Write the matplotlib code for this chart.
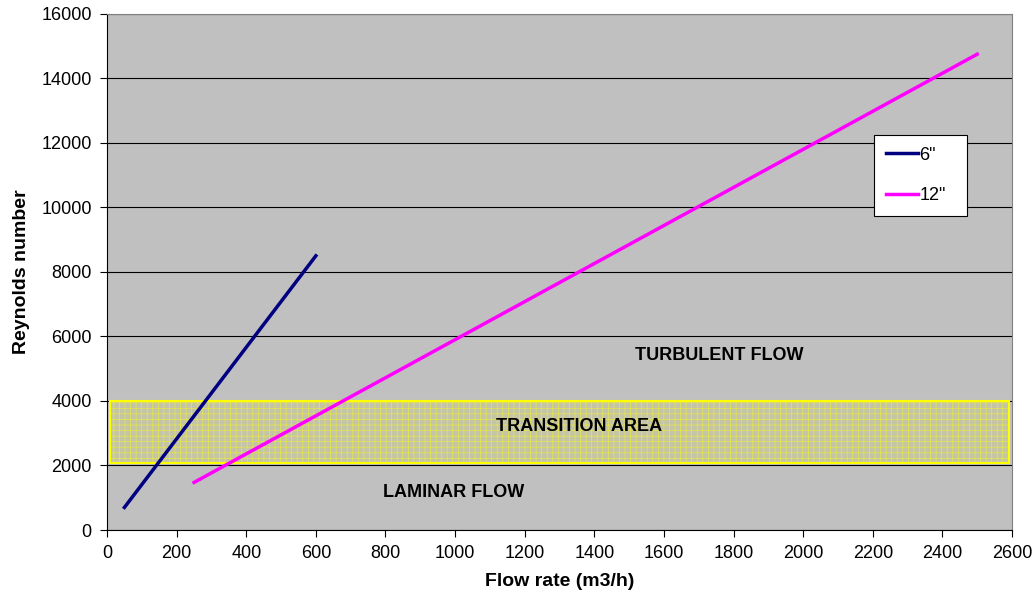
import numpy as np
import matplotlib.pyplot as plt
from matplotlib.patches import Rectangle

# flow rate (m3/h) and Reynolds number for each pipe size
flow_6in = [50, 600]
re_6in = [700, 8500]
flow_12in = [250, 2500]
re_12in = [1475, 14750]

zone_labels = ['TURBULENT FLOW', 'TRANSITION AREA', 'LAMINAR FLOW']
zone_x = [1760, 1355, 995]
zone_y = [5400, 3200, 1150]

plt.rcParams['font.family'] = ['Liberation Sans', 'DejaVu Sans']
plt.rcParams['hatch.linewidth'] = 0.5

fig = plt.figure(figsize=(10.35, 6.04), dpi=100)
ax = fig.add_axes([0.1034, 0.1225, 0.8744, 0.8545])
ax.set_facecolor('#c0c0c0')

# transition band between 2000 and 4000: hatched fill plus yellow border
ax.add_patch(Rectangle((10, 2080), 2580, 1920, facecolor='#c4c4a8', edgecolor='#e6e64a',
                       hatch='+++', linewidth=0, zorder=1))
ax.add_patch(Rectangle((10, 2080), 2580, 1920, facecolor='none', edgecolor='#ffff00',
                       linewidth=1.5, zorder=1))

ax.plot(flow_6in, re_6in, color='#000080', linewidth=2.5, label='6"', zorder=3)
ax.plot(flow_12in, re_12in, color='#ff00ff', linewidth=2.5, label='12"', zorder=3)

for lab, x, y in zip(zone_labels, zone_x, zone_y):
    ax.text(x, y, lab, ha='center', va='center', fontsize=13, fontweight='bold', zorder=4)

ax.set_xlim(0, 2600)
ax.set_ylim(0, 16000)
ax.set_xticks(np.arange(0, 2601, 200))
ax.set_yticks(np.arange(0, 16001, 2000))
ax.yaxis.grid(True, color='black', linewidth=0.8)
ax.set_axisbelow(True)
ax.tick_params(labelsize=13, direction='out', length=5, pad=6)
ax.set_xlabel('Flow rate (m3/h)', fontsize=14, fontweight='bold', labelpad=8)
ax.set_ylabel('Reynolds number', fontsize=14, fontweight='bold', labelpad=8)
for s in ['top', 'right']:
    ax.spines[s].set_color('#808080')

leg = ax.legend(loc='upper left', bbox_to_anchor=(0.8475, 0.7655, 0.1028, 0.0),
                mode='expand', fontsize=13,
                frameon=True, fancybox=False, handlelength=1.8, handletextpad=0.05,
                labelspacing=1.3, borderpad=0.65, borderaxespad=0, edgecolor='black',
                framealpha=1)
leg.get_frame().set_linewidth(0.8)

plt.savefig('out.png', dpi=100)
